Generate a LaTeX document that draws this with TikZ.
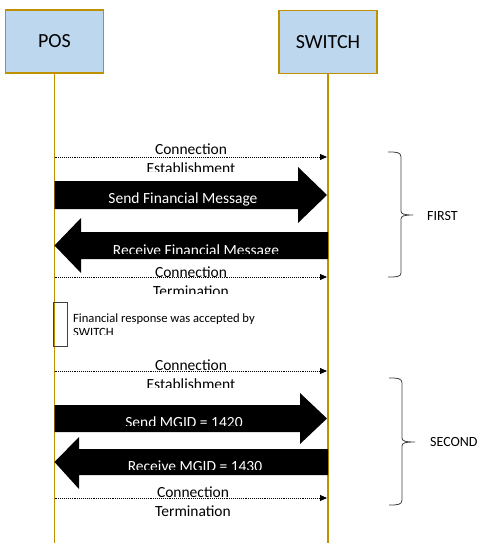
\documentclass[tikz,border=0pt]{standalone}
\usepackage{fontspec}
\setmainfont{Carlito}
\usetikzlibrary{arrows.meta}
\definecolor{boxfill}{HTML}{BDD7EE}
\definecolor{gold}{HTML}{BF9000}
\definecolor{bracegray}{HTML}{404040}
\begin{document}
\begin{tikzpicture}[x=1pt,y=-1pt,
  actor/.style={draw=gold,line width=1.3pt,fill=boxfill,minimum width=98pt,minimum height=63pt,font=\fontsize{20}{24}\selectfont,inner sep=0pt},
  life/.style={draw=gold,line width=1.2pt},
  msg/.style={densely dotted,line width=0.9pt,-{Triangle[length=7pt,width=6pt]}},
  lbl/.style={font=\fontsize{15.5}{19}\selectfont,anchor=base,inner sep=0pt},
  blk/.style={fill=black},
  wlbl/.style={lbl,text=white},
  note/.style={font=\fontsize{12.6}{15}\selectfont,anchor=base west,inner sep=0pt},
  brace/.style={draw=bracegray,line width=0.8pt},
  grp/.style={font=\fontsize{14}{17}\selectfont,anchor=west,inner sep=0pt}]
\useasboundingbox (0,0) rectangle (481,552);
% actors
\node[actor] (pos) at (54.5,41.5) {POS};
\node[actor] (sw) at (328,42) {SWITCH};
\coordinate (posend) at (54.5,543);
\coordinate (swend) at (328,543);
\draw[life] (pos.south) -- (posend);
\draw[life] (sw.south) -- (swend);

% ---- FIRST ----
% connection establishment 1
\coordinate (a1) at (54.5,157); \coordinate (b1) at (327,157);
\begin{scope}\clip (60,135) rectangle (320,171.5);
\node[lbl] (t1a) at (191,154) {Connection};
\node[lbl] (t1b) at (191,173) {Establishment};
\end{scope}
\draw[msg] (a1) -- (b1);
% send financial message
\fill[blk] (54.5,181) -- (298,181) -- (298,167) -- (327,195) -- (298,223) -- (298,209) -- (54.5,209) -- cycle;
\begin{scope}\clip (60,185) rectangle (300,205.5);
\node[wlbl] (t2) at (183,203) {Send Financial Message};
\end{scope}
% receive financial message
\fill[blk] (328,232) -- (81,232) -- (81,218) -- (54.5,245.5) -- (81,273) -- (81,259) -- (328,259) -- cycle;
\begin{scope}\clip (85,236) rectangle (325,253);
\node[wlbl] (t3) at (196,255) {Receive Financial Message};
\end{scope}
% connection termination 1
\coordinate (a2) at (54.5,277); \coordinate (b2) at (327,277);
\begin{scope}\clip (60,262) rectangle (320,293.5);
\node[lbl] (t4a) at (191,277) {Connection};
\node[lbl] (t4b) at (191,296) {Termination};
\end{scope}
\draw[msg] (a2) -- (b2);

% note
\node[draw=bracegray,line width=0.9pt,minimum width=14pt,minimum height=44pt,inner sep=0pt] (nb) at (60,324) {};
\begin{scope}\clip (70,305) rectangle (280,334);
\node[note] (nt1) at (73,322) {Financial response was accepted by};
\node[note] (nt2) at (73,336.5) {SWITCH};
\end{scope}

% ---- SECOND ----
\coordinate (a3) at (54.5,371); \coordinate (b3) at (327,371);
\begin{scope}\clip (60,350) rectangle (320,387.5);
\node[lbl] (t5a) at (191,370) {Connection};
\node[lbl] (t5b) at (191,389) {Establishment};
\end{scope}
\draw[msg] (a3) -- (b3);
% send MGID
\fill[blk] (54.5,405) -- (300,405) -- (300,393) -- (327,418.5) -- (300,444) -- (300,432) -- (54.5,432) -- cycle;
\begin{scope}\clip (60,410) rectangle (300,425);
\node[wlbl] (t6) at (184,427) {Send MGID = 1420};
\end{scope}
% receive MGID
\fill[blk] (328,449) -- (79,449) -- (79,437) -- (54.5,462) -- (79,489) -- (79,475) -- (328,475) -- cycle;
\begin{scope}\clip (85,452) rectangle (325,469);
\node[wlbl] (t7) at (195,471) {Receive MGID = 1430};
\end{scope}
% connection termination 2
\coordinate (a4) at (54.5,498); \coordinate (b4) at (327,498);
\node[lbl] (t8a) at (193,497) {Connection};
\node[lbl] (t8b) at (193,516) {Termination};
\draw[msg] (a4) -- (b4);

% braces
\draw[brace] (388,152) .. controls (396,152) and (401,152) .. (401,157) -- (401,211) .. controls (401,214) and (404,215) .. (413,215)
  .. controls (404,215) and (401,216) .. (401,219) -- (401,273) .. controls (401,277) and (396,277) .. (388,277);
\node[grp] (first) at (427,216) {FIRST};
\draw[brace] (389,378) .. controls (397,378) and (402,378) .. (402,383) -- (402,438) .. controls (402,441) and (405,442) .. (415,442)
  .. controls (405,442) and (402,443) .. (402,446) -- (402,500) .. controls (402,505) and (397,505) .. (389,505);
\node[grp] (second) at (430,442) {SECOND};
\end{tikzpicture}
\end{document}
